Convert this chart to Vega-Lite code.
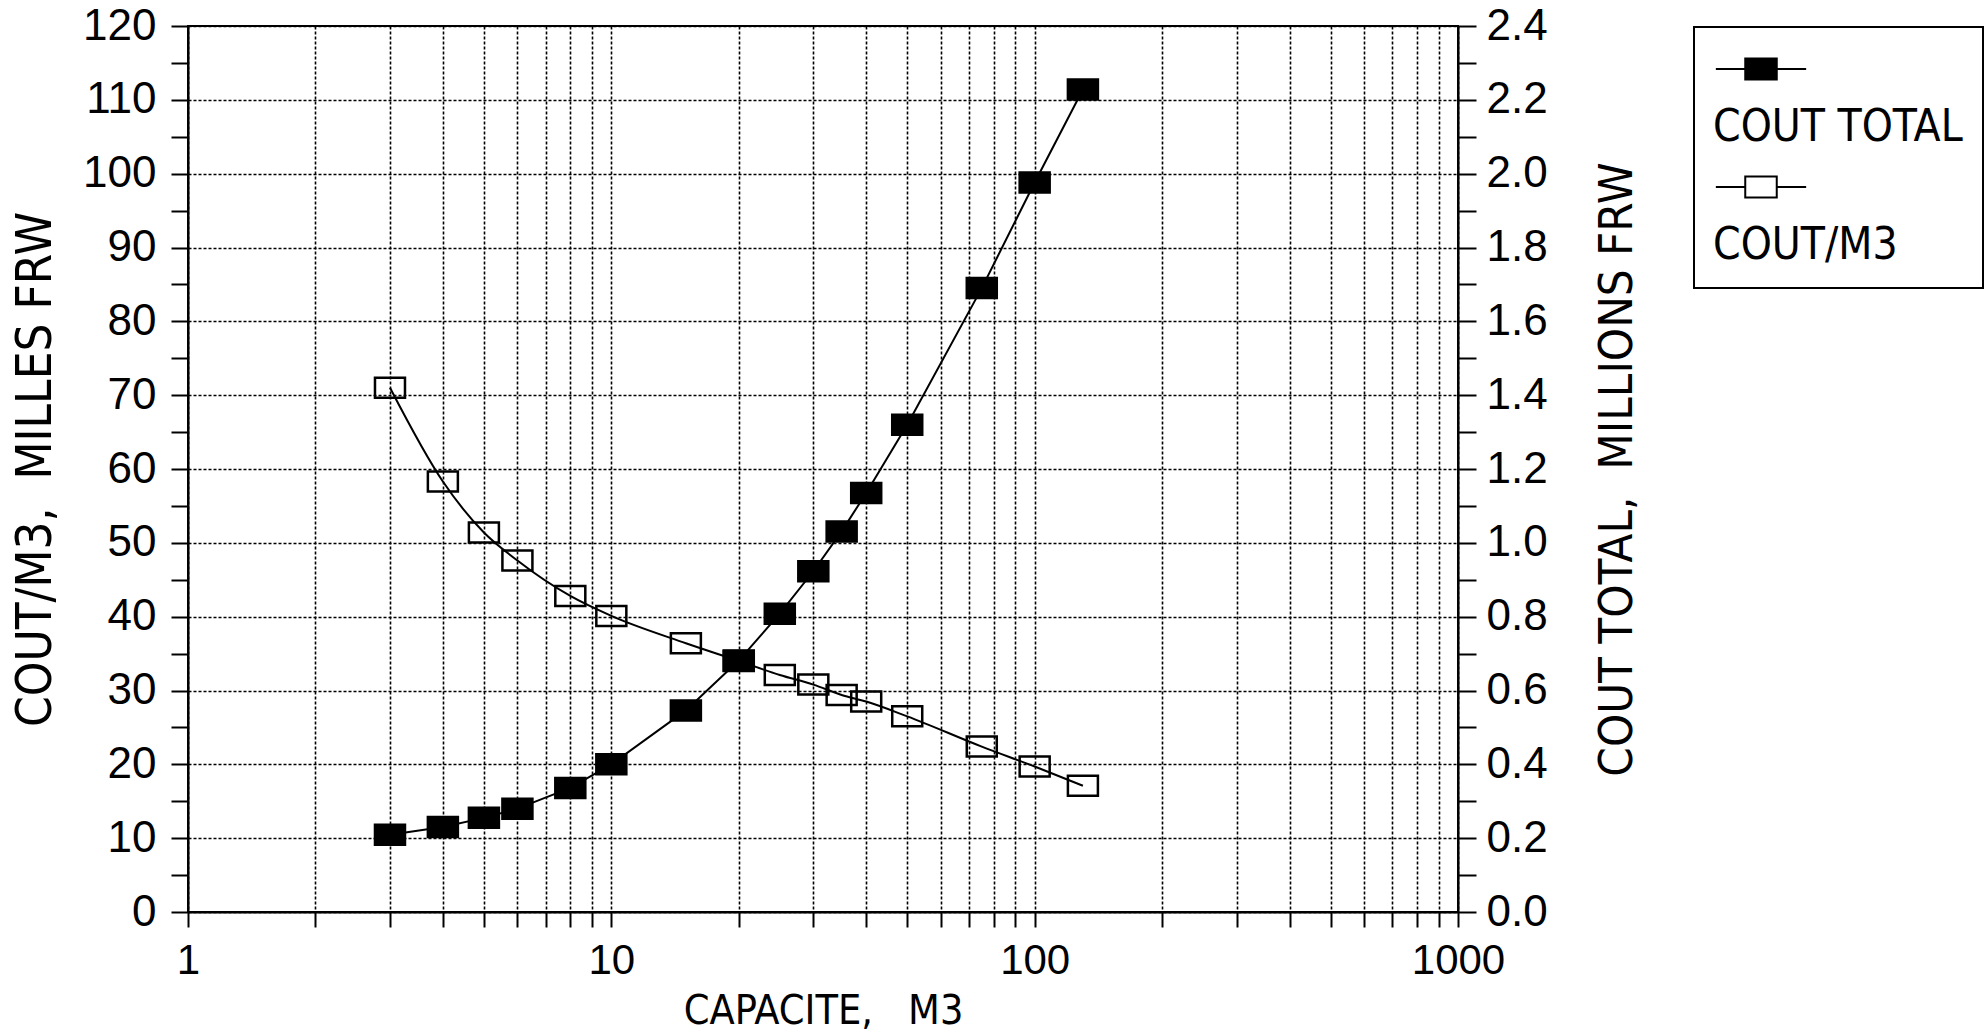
{
  "$schema": "https://vega.github.io/schema/vega-lite/v6.json",
  "width": 1270,
  "height": 886,
  "autosize": {"type": "none"},
  "padding": {"left": 188, "top": 26, "right": 529, "bottom": 122},
  "background": "white",
  "config": {
    "view": {"stroke": "black", "strokeWidth": 2},
    "font": "DejaVu Sans Condensed"
  },
  "data": {
    "values": [
      {"cap": 3, "total": 0.209, "perm3": 71.0},
      {"cap": 4, "total": 0.230, "perm3": 58.3},
      {"cap": 5, "total": 0.255, "perm3": 51.4},
      {"cap": 6, "total": 0.280, "perm3": 47.6},
      {"cap": 8, "total": 0.336, "perm3": 42.8},
      {"cap": 10, "total": 0.400, "perm3": 40.1},
      {"cap": 15, "total": 0.546, "perm3": 36.4},
      {"cap": 20, "total": 0.681, "perm3": 34.0},
      {"cap": 25, "total": 0.808, "perm3": 32.1},
      {"cap": 30, "total": 0.923, "perm3": 30.8},
      {"cap": 35, "total": 1.031, "perm3": 29.4},
      {"cap": 40, "total": 1.135, "perm3": 28.5},
      {"cap": 50, "total": 1.320, "perm3": 26.5},
      {"cap": 75, "total": 1.690, "perm3": 22.4},
      {"cap": 100, "total": 1.976, "perm3": 19.7},
      {"cap": 130, "total": 2.228, "perm3": 17.1}
    ]
  },
  "encoding": {
    "x": {
      "field": "cap",
      "type": "quantitative",
      "scale": {"type": "log", "domain": [1, 1000], "nice": false},
      "axis": {
        "values": [1,2,3,4,5,6,7,8,9,10,20,30,40,50,60,70,80,90,100,200,300,400,500,600,700,800,900,1000],
        "labelExpr": "(datum.value == 1 || datum.value == 10 || datum.value == 100 || datum.value == 1000) ? format(datum.value, 'd') : ''",
        "grid": true,
        "gridDash": [3, 2],
        "gridColor": "black",
        "gridWidth": 1.6,
        "tickSize": 15,
        "tickWidth": 2,
        "tickColor": "black",
        "domainColor": "black",
        "domainWidth": 2,
        "labelFont": "Liberation Sans",
        "labelFontSize": 42,
        "labelColor": "black",
        "labelPadding": 13,
        "labelFlush": false,
        "labelOverlap": false,
        "labelBound": false,
        "title": "CAPACITE,\u00a0\u00a0\u00a0M3",
        "titleFont": "DejaVu Sans Condensed",
        "titleFontSize": 41,
        "titleFontWeight": "normal",
        "titleColor": "black",
        "titlePadding": 10
      }
    }
  },
  "layer": [
    {
      "encoding": {
        "y": {
          "field": "perm3",
          "type": "quantitative",
          "scale": {"domain": [0, 120], "nice": false},
          "axis": {
            "orient": "left",
            "values": [0,5,10,15,20,25,30,35,40,45,50,55,60,65,70,75,80,85,90,95,100,105,110,115,120],
            "labelExpr": "datum.value % 10 == 0 ? datum.label : ''",
            "grid": true,
            "gridOpacity": {"condition": {"test": "datum.value % 10 == 0", "value": 1}, "value": 0},
            "gridDash": [3, 2],
            "gridColor": "black",
            "gridWidth": 1.6,
            "tickSize": 17,
            "tickWidth": 2,
            "tickColor": "black",
            "domainColor": "black",
            "domainWidth": 2,
            "labelFont": "Liberation Sans",
            "labelFontSize": 44,
            "labelColor": "black",
            "labelPadding": 15,
            "labelOverlap": false,
            "labelBound": false,
            "title": "COUT/M3,\u00a0\u00a0MILLES FRW",
            "titleFont": "DejaVu Sans Condensed",
            "titleFontSize": 49,
            "titleFontWeight": "normal",
            "titleColor": "black",
            "titlePadding": 22
          }
        }
      },
      "layer": [
        {
          "mark": {"type": "line", "color": "black", "strokeWidth": 2, "interpolate": "monotone"}
        },
        {
          "mark": {"type": "point", "shape": "M-1.5,-1L1.5,-1L1.5,1L-1.5,1Z", "size": 400, "filled": true, "stroke": "black", "strokeWidth": 2.5, "opacity": 1},
          "encoding": {
            "fill": {
              "datum": "COUT/M3",
              "type": "nominal",
              "scale": {"domain": ["COUT TOTAL", "COUT/M3"], "range": ["black", "transparent"]},
              "legend": {
                "orient": "none",
                "legendX": 1506,
                "legendY": 1,
                "title": null,
                "strokeColor": "black",
                "fillColor": "white",
                "padding": 20,
                "symbolType": "M-4.3,0L-1.5,0M1.5,0L4.3,0M-1.5,-1L1.5,-1L1.5,1L-1.5,1Z",
                "symbolSize": 441,
                "symbolStrokeColor": "black",
                "symbolStrokeWidth": 2,
                "symbolOpacity": 1,
                "symbolOffset": 25,
                "labelFont": "DejaVu Sans Condensed",
                "labelFontSize": 44,
                "labelColor": "black",
                "labelOffset": -70,
                "labelLimit": 400,
                "rowPadding": 15,
                "encode": {
                  "labels": {"update": {"dy": {"value": 59}}},
                  "legend": {"update": {"strokeWidth": {"value": 2}}}
                }
              }
            }
          }
        }
      ]
    },
    {
      "encoding": {
        "y": {
          "field": "total",
          "type": "quantitative",
          "scale": {"domain": [0, 2.4], "nice": false},
          "axis": {
            "orient": "right",
            "values": [0,0.1,0.2,0.3,0.4,0.5,0.6,0.7,0.8,0.9,1.0,1.1,1.2,1.3,1.4,1.5,1.6,1.7,1.8,1.9,2.0,2.1,2.2,2.3,2.4],
            "labelExpr": "round(datum.value * 10) % 2 == 0 ? format(datum.value, '.1f') : ''",
            "grid": false,
            "tickSize": 18,
            "tickWidth": 2,
            "tickColor": "black",
            "domainColor": "black",
            "domainWidth": 2,
            "labelFont": "Liberation Sans",
            "labelFontSize": 44,
            "labelColor": "black",
            "labelPadding": 10,
            "labelOverlap": false,
            "labelBound": false,
            "title": "COUT TOTAL,\u00a0\u00a0MILLIONS FRW",
            "titleFont": "DejaVu Sans Condensed",
            "titleFontSize": 47,
            "titleFontWeight": "normal",
            "titleColor": "black",
            "titleAngle": -90,
            "titleBaseline": "top",
            "titlePadding": 47
          }
        }
      },
      "layer": [
        {
          "mark": {"type": "line", "color": "black", "strokeWidth": 2}
        },
        {
          "mark": {"type": "point", "shape": "M-1.5,-1L1.5,-1L1.5,1L-1.5,1Z", "size": 400, "filled": true, "stroke": "black", "strokeWidth": 2.5, "opacity": 1},
          "encoding": {
            "fill": {"datum": "COUT TOTAL", "type": "nominal"}
          }
        }
      ]
    }
  ],
  "resolve": {"scale": {"y": "independent"}}
}
